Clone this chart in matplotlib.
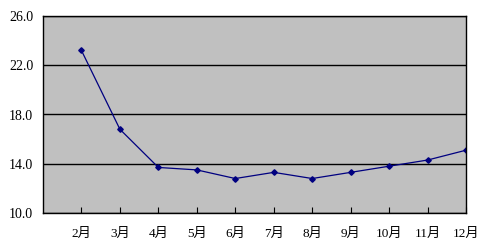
import matplotlib.pyplot as plt

plt.rcParams['font.family'] = ['Liberation Serif', 'Noto Sans CJK SC']

months = ['2月', '3月', '4月', '5月', '6月', '7月', '8月', '9月', '10月', '11月', '12月']
values = [23.2, 16.8, 13.7, 13.5, 12.8, 13.3, 12.8, 13.3, 13.8, 14.3, 15.1]
yticks = [10.0, 14.0, 18.0, 22.0, 26.0]

fig = plt.figure(figsize=(4.91, 2.43), dpi=100)
ax = fig.add_axes([43 / 491, 1 - 213 / 243, 423 / 491, 197 / 243])
ax.set_facecolor('#c0c0c0')

x = list(range(2, 2 + len(months)))
ax.plot(x, values, color='#000080', lw=0.9, marker='D', ms=2.8, mfc='#000080', mec='#000080')

ax.set_xlim(1, 12)
ax.set_ylim(10, 26)
ax.set_yticks(yticks)
ax.set_yticklabels(['%.1f' % v for v in yticks])
ax.yaxis.grid(True, color='black', lw=1)
ax.set_axisbelow(True)
ax.set_xticks(x)
ax.set_xticklabels(months)
ax.tick_params(axis='x', direction='in', length=4, pad=11, labelsize=9.5)
ax.tick_params(axis='y', length=0, pad=7, labelsize=10)
for s in ax.spines.values():
    s.set_color('black')
    s.set_linewidth(1)

fig.savefig('out.png', dpi=100)
